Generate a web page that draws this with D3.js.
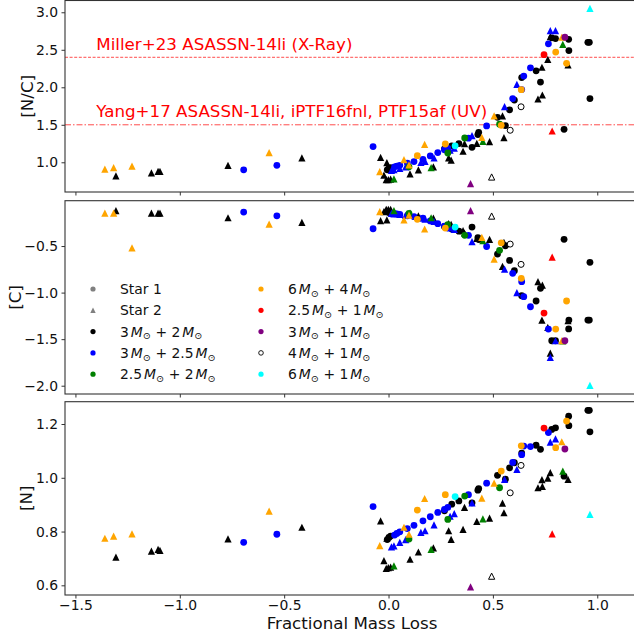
<!DOCTYPE html>
<html><head><meta charset="utf-8">
<script src="https://cdn.jsdelivr.net/npm/d3@7"></script>
<style>body{margin:0;background:#fff} svg{display:block} text{font-family:"DejaVu Sans",sans-serif}</style>
</head><body><svg id="c" width="634" height="639"></svg>
<script>
// Each point: [fractional mass loss, [N/C], [C], [N]]
const m32_star1 = [
 [-0.006,0.90,-0.13,0.770],[0.002,0.92,-0.14,0.778],[0.010,0.93,-0.15,0.783],
 [0.268,1.18,-0.29,0.877],[0.303,1.22,-0.317,0.902],[0.337,1.25,-0.34,0.914],
 [0.400,1.20,-0.296,0.907],[0.428,1.37,-0.41,0.954],[0.432,1.40,-0.43,0.960],
 [0.522,1.60,-0.586,1.009],[0.560,1.49,-0.497,0.995],[0.580,1.70,-0.654,1.037],
 [0.603,1.83,-0.765,1.056],[0.638,2.13,-1.034,1.092],[0.707,2.22,-1.09,1.121],
 [0.728,2.07,-0.954,1.106],[0.782,2.66,-1.517,1.180],[0.800,2.65,-1.517,1.186],
 [0.841,1.44,-0.428,1.006],[0.863,2.64,-1.39,1.229],[0.864,2.49,-1.295,1.194],
 [0.955,2.60,-1.295,1.251],[0.962,2.60,-1.295,1.251],[0.965,1.85,-0.675,1.171]
];
const m32_star2 = [
 [-1.306,0.82,-0.12,0.705],[-1.136,0.86,-0.146,0.727],[-1.104,0.88,-0.146,0.734],
 [-1.095,0.88,-0.146,0.730],[-0.769,0.96,-0.196,0.773],[-0.415,1.06,-0.245,0.816],
 [-0.038,1.066,-0.228,0.840],[-0.008,0.995,-0.22,0.775],[-0.022,0.83,-0.13,0.692],
 [-0.011,0.77,-0.105,0.663],[-0.001,0.77,-0.105,0.666],[0.010,0.775,-0.105,0.668],
 [0.103,0.845,-0.147,0.697],[0.143,0.90,-0.175,0.724],[0.215,0.94,-0.20,0.739],
 [0.288,1.06,-0.26,0.803],[0.300,1.03,-0.267,0.771],[0.357,1.147,-0.335,0.808],
 [0.364,1.25,-0.36,0.890],[0.423,1.253,-0.417,0.838],[0.484,1.275,-0.428,0.850],
 [0.546,1.62,-0.718,0.906],[0.553,1.33,-0.46,0.870],[0.716,1.844,-0.883,0.963],
 [0.737,1.897,-0.919,0.968],[0.735,2.267,-1.295,0.993],[0.763,2.373,-1.374,0.999],
 [0.775,2.675,-1.65,1.019],[0.860,2.30,-1.30,0.994]
];
const m325_star1 = [
 [-0.694,0.90,-0.135,0.760],[-0.535,0.96,-0.175,0.790],[-0.074,1.21,-0.314,0.893],
 [0.029,0.94,-0.153,0.787],[0.040,0.95,-0.155,0.793],[0.054,0.96,-0.16,0.799],
 [0.090,0.99,-0.175,0.811],[0.122,1.01,-0.185,0.823],[0.165,1.04,-0.20,0.840],
 [0.200,1.085,-0.23,0.855],[0.236,1.13,-0.26,0.871],[0.268,1.167,-0.285,0.882],
 [0.284,1.186,-0.296,0.890],[0.383,1.322,-0.385,0.937],[0.470,1.485,-0.505,0.980],
 [0.595,1.85,-0.793,1.057],[0.638,1.97,-0.883,1.086],[0.648,2.15,-1.044,1.118],
 [0.680,2.26,-1.152,1.116],[0.766,2.58,-1.392,1.168]
];
const m325_star2 = [
 [0.014,0.893,-0.15,0.743],[0.026,0.902,-0.155,0.747],[0.054,0.92,-0.16,0.760],
 [0.082,0.94,-0.17,0.770],[0.155,0.997,-0.20,0.797],[0.175,1.013,-0.21,0.803],
 [0.218,1.06,-0.235,0.825],[0.295,1.162,-0.305,0.857],[0.315,1.187,-0.32,0.867],
 [0.400,1.355,-0.452,0.907],[0.556,1.741,-0.747,0.994],[0.615,2.04,-1.0,1.031],
 [0.775,2.755,-1.695,1.133],[0.800,2.755,-1.517,1.145]
];
const m252_star1 = [[0.098,0.94,-0.15,0.772],[0.284,1.124,-0.271,0.845],[0.365,1.324,-0.385,0.932],[0.532,1.507,-0.546,0.963]];
const m252_star2 = [[0.026,0.78,-0.12,0.672],[0.204,0.93,-0.196,0.734],[0.452,1.28,-0.443,0.847],[0.835,2.573,-1.52,1.025]];
const m64_star1 = [[0.138,1.088,-0.213,0.880],[0.272,1.244,-0.307,0.937],[0.540,1.493,-0.465,1.025],[0.636,1.968,-0.847,1.119],[0.801,2.47,-1.392,1.112],[0.853,2.32,-1.09,1.211]];
const m64_star2 = [
 [-1.359,0.91,-0.146,0.775],[-1.317,0.93,-0.146,0.783],[-1.229,0.95,-0.52,0.791],[-0.572,1.13,-0.264,0.876],
 [-0.042,0.875,-0.13,0.748],[0.074,1.035,-0.22,0.816],[0.098,0.965,-0.167,0.790],[0.173,1.24,-0.317,0.923],
 [0.447,1.333,-0.406,0.924],[0.506,1.62,-0.64,0.980],[0.830,2.667,-1.517,1.134]
];
const m251_star1 = [[0.745,2.435,-1.22,1.185]];
const m251_star2 = [[0.784,1.417,-0.618,0.791]];
const m31_star1 = [[0.845,2.667,-1.517,1.107]];
const m31_star2 = [[0.393,0.715,-0.12,0.594]];
const m41_star1 = [[0.583,1.427,-0.479,0.944],[0.635,1.74,-0.697,1.046]];
const m41_star2 = [[0.494,0.804,-0.178,0.634]];
const m61_star1 = [[0.319,1.22,-0.296,0.930]];
const m61_star2 = [[0.965,3.053,-1.996,0.864]];

const modelLabels = [["3","2"],["3","2.5"],["2.5","2"],["6","4"],["2.5","1"],["3","1"],["4","1"],["6","1"]];
const modelColors = ["black","blue","green","orange","red","purple","white","cyan"];
const ncTicks = [1.0,1.5,2.0,2.5,3.0];
const cTicks = [-0.5,-1.0,-1.5,-2.0];
const nTicks = [0.6,0.8,1.0,1.2];
const xTicks = [-1.5,-1.0,-0.5,0.0,0.5,1.0];
const refLines = [
 {value:2.4, label:"Miller+23 ASASSN-14li (X-Ray)", dash:"3,1.6"},
 {value:1.5, label:"Yang+17 ASASSN-14li, iPTF16fnl, PTF15af (UV)", dash:"6,2,1.5,2"}
];

const modelData = [
 [m32_star1,m32_star2],[m325_star1,m325_star2],[m252_star1,m252_star2],[m64_star1,m64_star2],
 [m251_star1,m251_star2],[m31_star1,m31_star2],[m41_star1,m41_star2],[m61_star1,m61_star2]
];

const svg = d3.select("#c");
const x = d3.scaleLinear().domain([-1.55,1.2]).range([65,639]);
const panels = [
 {k:1, label:"[N/C]", top:0.5, bottom:192, domain:[0.604,3.157], ticks:ncTicks, lx:33},
 {k:2, label:"[C]", top:200.7, bottom:394, domain:[-2.089,-0.013], ticks:cTicks, lx:20.5},
 {k:3, label:"[N]", top:401.7, bottom:595, domain:[0.564,1.283], ticks:nTicks, lx:32}
];
const tri = s => `M0,${-s/2}L${s/2},${s/2}L${-s/2},${s/2}Z`;
const fmt = d3.format(".1f");

panels.forEach((p,pi) => {
  const y = d3.scaleLinear().domain(p.domain).range([p.bottom,p.top]);
  const g = svg.append("g");
  const clipId = "clip"+pi;
  svg.append("clipPath").attr("id",clipId).append("rect")
    .attr("x",65).attr("y",p.top).attr("width",574).attr("height",p.bottom-p.top);
  const plot = g.append("g").attr("clip-path",`url(#${clipId})`);
  if (p.k===1) {
    refLines.forEach(r => {
      plot.append("line").attr("x1",x.range()[0]).attr("x2",x.range()[1])
        .attr("y1",y(r.value)).attr("y2",y(r.value))
        .attr("stroke","red").attr("stroke-opacity",0.7).attr("stroke-width",1)
        .attr("stroke-dasharray",r.dash);
      g.append("text").attr("x",x(-1.4)).attr("y",y(r.value+0.1))
        .attr("fill","red").attr("font-size",16.7).text(r.label);
    });
  }
  modelData.forEach((pair,mi) => {
    const col = modelColors[mi];
    const open = col==="white";
    plot.selectAll(null).data(pair[0]).enter().append("circle")
      .attr("cx",d=>x(d[0])).attr("cy",d=>y(d[p.k])).attr("r",open?3.0:3.4)
      .attr("fill",col).attr("stroke",open?"black":"none").attr("stroke-width",1);
    plot.selectAll(null).data(pair[1]).enter().append("path")
      .attr("d",open?tri(6.2):tri(7.2))
      .attr("transform",d=>`translate(${x(d[0])},${y(d[p.k])})`)
      .attr("fill",col).attr("stroke",open?"black":"none").attr("stroke-width",1);
  });
  const ya = g.append("g").attr("transform","translate(65,0)")
    .call(d3.axisLeft(y).tickValues(p.ticks).tickFormat(fmt).tickSize(3.5).tickPadding(3.5));
  const xa = g.append("g").attr("transform",`translate(0,${p.bottom})`)
    .call(d3.axisBottom(x).tickValues(xTicks).tickFormat(p.k===3?fmt:"").tickSize(3.5).tickPadding(1.5));
  [ya,xa].forEach(a => {
    a.select(".domain").remove();
    a.selectAll("line").attr("stroke","#333");
    a.selectAll("text").attr("font-size",13.9).attr("fill","#111").style("font-family","DejaVu Sans");
  });
  g.append("rect").attr("x",65).attr("y",p.top).attr("width",574).attr("height",p.bottom-p.top)
    .attr("fill","none").attr("stroke","#333").attr("stroke-width",1.1);
  g.append("text").attr("transform",`translate(${p.lx},${(p.top+p.bottom)/2}) rotate(-90)`)
    .attr("text-anchor","middle").attr("font-size",16.7).attr("fill","#111").text(p.label);
});

svg.append("text").attr("x",(x.range()[0]+x.range()[1])/2).attr("y",629)
  .attr("text-anchor","middle").attr("font-size",16.7).attr("fill","#111").text("Fractional Mass Loss");

// legend
const leg = svg.append("g");
const rowY = i => 289 + i*21.3;
function mathLabel(t, a, b) {
  t.append("tspan").text(a);
  t.append("tspan").attr("dx",2).attr("font-style","italic").text("M");
  t.append("tspan").attr("font-size",9.7).attr("dy",2.8).text("\u2299");
  t.append("tspan").attr("dy",-2.8).text(" + "+b);
  t.append("tspan").attr("dx",2).attr("font-style","italic").text("M");
  t.append("tspan").attr("font-size",9.7).attr("dy",2.8).text("\u2299");
}
const entries = [{type:"star1"},{type:"star2"}].concat(modelLabels.map((l,i)=>({type:"model",i})));
entries.forEach((e,j) => {
  const col = j<5?0:1;
  const row = j<5?j:j-5;
  const mx = col===0?93:261, tx = col===0?120:288, cy = rowY(row);
  if (e.type==="star1") {
    leg.append("circle").attr("cx",mx).attr("cy",cy).attr("r",2.6).attr("fill","gray");
  } else if (e.type==="star2") {
    leg.append("path").attr("d",tri(5.4)).attr("transform",`translate(${mx},${cy})`).attr("fill","gray");
  } else {
    const c = modelColors[e.i];
    leg.append("circle").attr("cx",mx).attr("cy",cy).attr("r",c==="white"?2.3:2.6)
      .attr("fill",c).attr("stroke",c==="white"?"black":"none").attr("stroke-width",0.9);
  }
  const t = leg.append("text").attr("x",tx).attr("y",cy+5).attr("font-size",13.9).attr("fill","#111");
  if (e.type==="star1") t.text("Star 1");
  else if (e.type==="star2") t.text("Star 2");
  else mathLabel(t, modelLabels[e.i][0], modelLabels[e.i][1]);
});
</script></body></html>
